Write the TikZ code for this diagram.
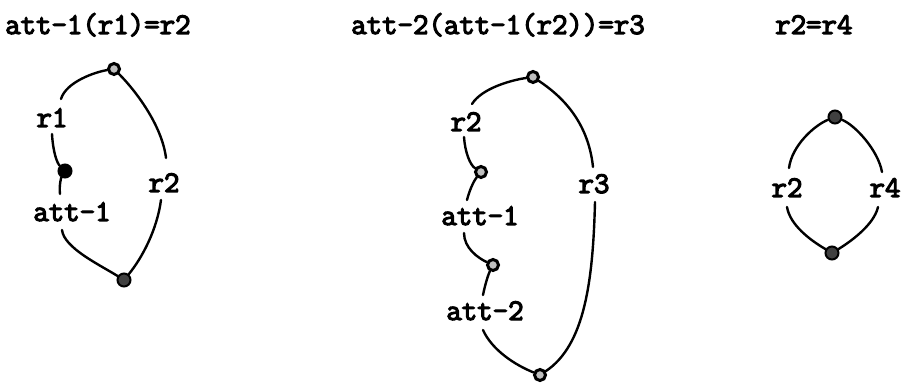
\documentclass[tikz,border=0pt]{standalone}
\usepackage{fontspec}
\newfontfamily\lblfont{Latin Modern Mono}[RawFeature={embolden=4}]
\tikzset{
  lbl/.style={font=\lblfont\fontsize{30}{31}\selectfont, inner sep=0pt, anchor=base},
  ttl/.style={lbl, anchor=base west},
  ringnode/.style={circle, draw=black, fill=black!25, line width=3pt, minimum size=11pt, inner sep=0pt},
  dotnode/.style={circle, draw=black, fill=black!75, line width=2pt, minimum size=13pt, inner sep=0pt},
  conn/.style={line width=2.4pt, line cap=round}
}
\begin{document}
\begin{tikzpicture}[x=1pt, y=-1pt]
\useasboundingbox (0,0) rectangle (905,387);

% ---------- Panel 1 ----------
\node[ttl] (t1) at (5,34) {att-1(r1)=r2};
\node[ringnode] (A1) at (114,69) {};
\node[dotnode, fill=black] (B1) at (65,171) {};
\node[dotnode] (C1) at (124,280) {};
\node[lbl] (l1a) at (52,127) {r1};
\node[lbl] (l1b) at (72,221) {att-1};
\node[lbl] (l1c) at (164,192) {r2};
\coordinate (c1a) at (61,99);
\coordinate (c1b) at (52,134);
\coordinate (c1c) at (60,194);
\coordinate (c1d) at (62,230);
\coordinate (c1e) at (166,158);
\coordinate (c1f) at (161,200);
\draw[conn] (A1) .. controls (95,72) and (66,82) .. (c1a);
\draw[conn] (c1b) .. controls (53,152) and (57,163) .. (B1);
\draw[conn] (B1) .. controls (61,178) and (59,186) .. (c1c);
\draw[conn] (c1d) .. controls (64,248) and (100,265) .. (C1);
\draw[conn] (A1) .. controls (135,90) and (162,125) .. (c1e);
\draw[conn] (c1f) .. controls (157,230) and (142,258) .. (C1);

% ---------- Panel 2 ----------
\node[ttl] (t2) at (351,34) {att-2(att-1(r2))=r3};
\node[ringnode] (A2) at (533,77) {};
\node[ringnode] (B2) at (481,172) {};
\node[ringnode] (C2) at (493,265) {};
\node[ringnode] (D2) at (540,375) {};
\node[lbl] (l2a) at (466,131) {r2};
\node[lbl] (l2b) at (480,225) {att-1};
\node[lbl] (l2c) at (485,320) {att-2};
\node[lbl] (l2d) at (594,193) {r3};
\coordinate (c2a) at (472,104);
\coordinate (c2b) at (464,137);
\coordinate (c2c) at (467,200);
\coordinate (c2d) at (464,233);
\coordinate (c2e) at (483,295);
\coordinate (c2f) at (483,330);
\coordinate (c2g) at (593,167);
\coordinate (c2h) at (595,202);
\draw[conn] (A2) .. controls (512,80) and (482,88) .. (c2a);
\draw[conn] (c2b) .. controls (465,152) and (470,165) .. (B2);
\draw[conn] (B2) .. controls (473,182) and (469,192) .. (c2c);
\draw[conn] (c2d) .. controls (464,248) and (478,258) .. (C2);
\draw[conn] (C2) .. controls (488,275) and (485,285) .. (c2e);
\draw[conn] (c2f) .. controls (492,350) and (515,365) .. (D2);
\draw[conn] (A2) .. controls (560,95) and (588,120) .. (c2g);
\draw[conn] (c2h) .. controls (593,280) and (585,345) .. (D2);

% ---------- Panel 3 ----------
\node[ttl] (t3) at (775,34) {r2=r4};
\node[dotnode] (A3) at (835,117) {};
\node[dotnode] (B3) at (832,253) {};
\node[lbl] (l3a) at (787,197) {r2};
\node[lbl] (l3b) at (885,197) {r4};
\coordinate (c3a) at (789,168);
\coordinate (c3b) at (787,207);
\coordinate (c3c) at (882,172);
\coordinate (c3d) at (878,207);
\draw[conn] (A3) .. controls (815,125) and (792,145) .. (c3a);
\draw[conn] (c3b) .. controls (790,225) and (810,240) .. (B3);
\draw[conn] (A3) .. controls (855,125) and (878,150) .. (c3c);
\draw[conn] (c3d) .. controls (874,225) and (850,242) .. (B3);
\end{tikzpicture}
\end{document}
